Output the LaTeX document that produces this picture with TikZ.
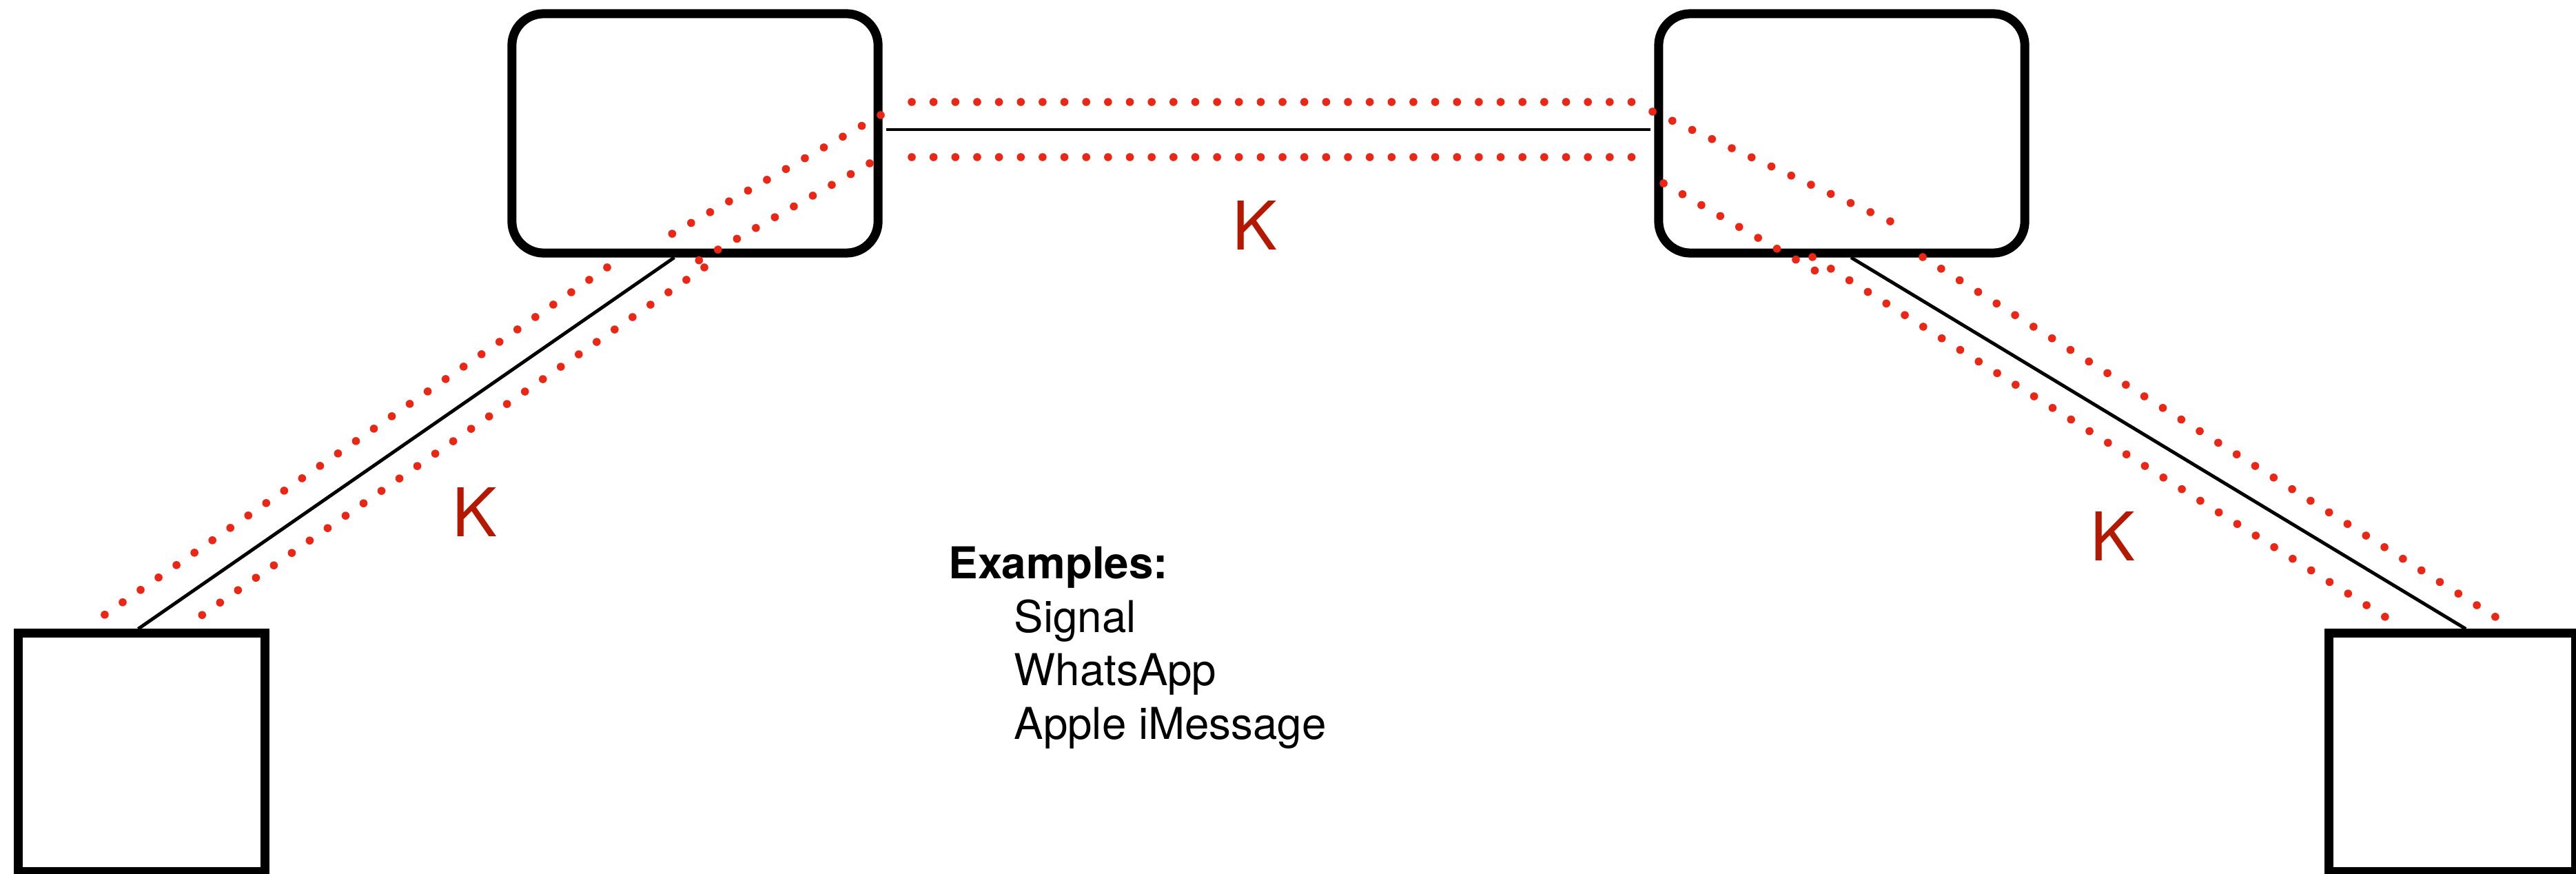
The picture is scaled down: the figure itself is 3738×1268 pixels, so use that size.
\documentclass[tikz,border=0pt]{standalone}
\usepackage{fontspec}
\setmainfont{TeX Gyre Heros}
\usetikzlibrary{positioning}
\definecolor{dotred}{RGB}{236,38,20}
\definecolor{keyred}{RGB}{180,24,0}

\begin{document}
\begin{tikzpicture}[x=0.01cm, y=-0.01cm,
  server/.style = {draw, line width=3.7pt, rounded corners=0.46cm, minimum width=5.31cm, minimum height=3.47cm, inner sep=0pt},
  client/.style = {draw, line width=3.7pt, minimum width=3.57cm, minimum height=3.45cm, inner sep=0pt},
  link/.style = {line width=1.4pt},
  tunnel/.style = {dotred, line width=3.3pt, line cap=round, dash pattern=on 0pt off 9.0pt},
  key/.style = {keyred, inner sep=0pt, font=\fontsize{27.7}{30}\selectfont},
  note/.style = {anchor=base west, inner sep=0pt, font=\fontsize{18.1}{22}\selectfont}]
\useasboundingbox (0,0) rectangle (3738,1268);
% servers and clients
\node (sa) [server] at (1008.5,193.5) {};
\node (sb) [server] at (2672.5,193.5) {};
\node (ca) [client] at (205.5,1091.5) {};
\node (cb) [client] at (3558.5,1091.5) {};
% plain links
\draw [link] ([xshift=0.05cm, yshift=0.055cm]sa.east) -- ([xshift=-0.05cm, yshift=0.055cm]sb.west);
\draw [link] ([xshift=-0.05cm]ca.north) -- ([xshift=-0.3cm]sa.south);
\draw [link] ([xshift=0.135cm]sb.south) -- ([xshift=0.195cm]cb.north);
% encrypted tunnels
\draw [tunnel] (1323,148) -- (2379,148);
\draw [tunnel] (1323,228) -- (2379,228);
\draw [tunnel] (1278,167) -- (972,341);
\draw [tunnel] (881,388) -- (143,898);
\draw [tunnel] (1262,237) -- (1012,379);
\draw [tunnel] (1022,388) -- (285,898);
\draw [tunnel] (2398,162) -- (2747,323);
\draw [tunnel] (2790,373) -- (3629,900);
\draw [tunnel] (2414,266) -- (2636,394);
\draw [tunnel] (2630,373) -- (3469,900);
% keys
\node (k1) [key] at (1821,327) {K};
\node (k2) [key] at (689,743) {K};
\node (k3) [key] at (3066,778) {K};
% examples
\node (ex) [note, font=\bfseries\fontsize{18.1}{22}\selectfont] at (1376,840) {Examples:};
\node (ex1) [note] at (1471,918) {Signal};
\node (ex2) [note] at (1471,995) {WhatsApp};
\node (ex3) [note] at (1471,1073) {Apple iMessage};
\end{tikzpicture}
\end{document}
